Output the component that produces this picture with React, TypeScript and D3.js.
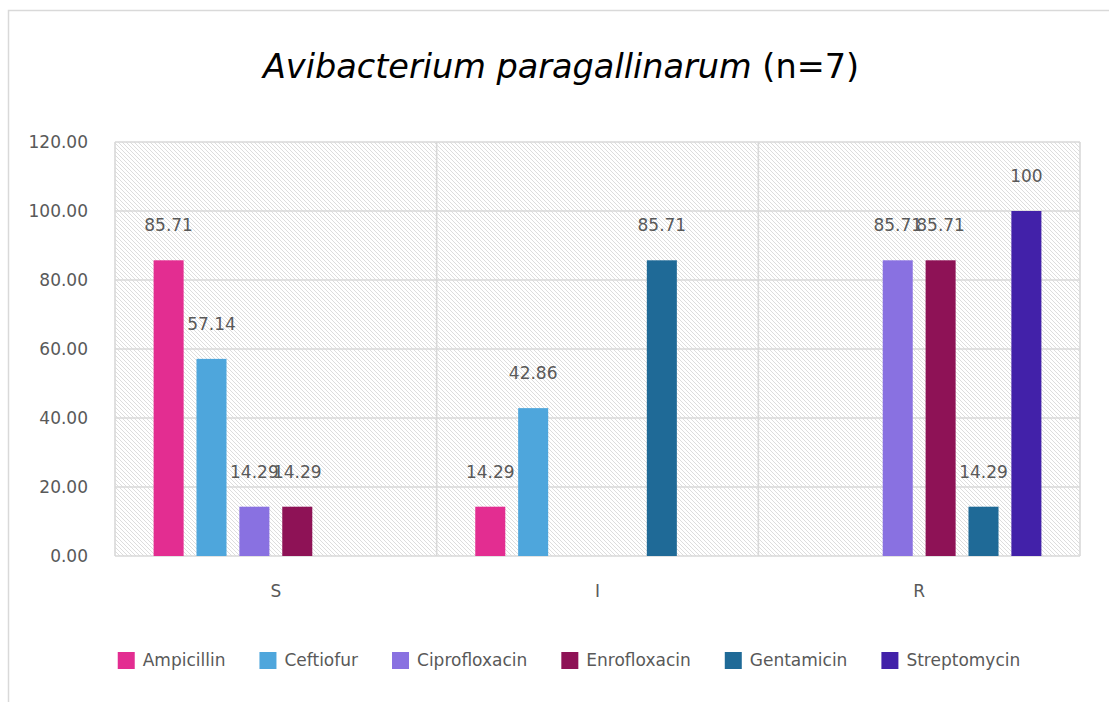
import React, { useEffect, useRef } from 'react';
import * as d3 from 'd3';

// groups on the x axis (S = susceptible, I = intermediate, R = resistant)
const categories = ['S', 'I', 'R'];
const drugs = ['Ampicillin', 'Ceftiofur', 'Ciprofloxacin', 'Enrofloxacin', 'Gentamicin', 'Streptomycin'];
const drugColors = ['#e32d91', '#4ea6dc', '#8971e1', '#8e1256', '#1f6a97', '#4221a9'];

// percent of isolates per drug, one array per group
const valuesS = [85.71, 57.14, 14.29, 14.29, 0, 0];
const valuesI = [14.29, 42.86, 0, 0, 85.71, 0];
const valuesR = [0, 0, 85.71, 85.71, 14.29, 100];

const yTicks = [0, 20, 40, 60, 80, 100, 120];

const FONT = '"DejaVu Sans", "Open Sans", sans-serif';
const GREY = '#595959';

const App = () => {
    const svgRef = useRef<SVGSVGElement | null>(null);

    useEffect(() => {
        const width = 1109;
        const height = 702;
        const left = 115;
        const right = 1080;
        const top = 142;
        const bottom = 556;

        const svg = d3.select(svgRef.current);
        svg.selectAll('*').remove();
        svg.attr('width', width).attr('height', height);

        const rows = [valuesS, valuesI, valuesR];

        // diagonal hatch for the plot background
        const defs = svg.append('defs');
        const pat = defs.append('pattern')
            .attr('id', 'hatch')
            .attr('patternUnits', 'userSpaceOnUse')
            .attr('width', 4)
            .attr('height', 4);
        pat.append('rect').attr('width', 4).attr('height', 4).attr('fill', '#ffffff');
        pat.append('path')
            .attr('d', 'M0,0 L4,4 M-1,3 L1,5 M3,-1 L5,1')
            .attr('stroke', '#d4d4d4')
            .attr('stroke-width', 0.8);

        // chart frame (only top and left edges show in the picture)
        svg.append('rect').attr('width', width).attr('height', height).attr('fill', '#fff');
        svg.append('path')
            .attr('d', `M8.5,${height} L8.5,10.5 L${width},10.5`)
            .attr('fill', 'none')
            .attr('stroke', '#d9d9d9')
            .attr('stroke-width', 1.5);

        const x = d3.scaleBand().domain(categories).range([left, right]).paddingInner(0).paddingOuter(0);
        const xInner = d3.scaleBand()
            .domain(drugs)
            .range([x.bandwidth() * 0.1, x.bandwidth() * 0.9])
            .paddingInner(0.3)
            .paddingOuter(0.15);
        const y = d3.scaleLinear().domain([0, 120]).range([bottom, top]);

        svg.append('rect')
            .attr('x', left).attr('y', top)
            .attr('width', right - left).attr('height', bottom - top)
            .attr('fill', 'url(#hatch)');

        // horizontal grid
        svg.append('g')
            .selectAll('line')
            .data(yTicks)
            .join('line')
            .attr('x1', left).attr('x2', right)
            .attr('y1', d => y(d)).attr('y2', d => y(d))
            .attr('stroke', '#d9d9d9')
            .attr('stroke-width', 1.6);

        // vertical separators between groups
        const seps = categories.map(c => x(c) as number).concat([right]);
        svg.append('g')
            .selectAll('line')
            .data(seps)
            .join('line')
            .attr('x1', d => d).attr('x2', d => d)
            .attr('y1', top).attr('y2', bottom)
            .attr('stroke', '#d9d9d9')
            .attr('stroke-width', 1.6);

        // y tick labels
        svg.append('g')
            .selectAll('text')
            .data(yTicks)
            .join('text')
            .attr('x', 88)
            .attr('y', d => y(d))
            .attr('dy', '0.35em')
            .attr('text-anchor', 'end')
            .style('font-family', FONT)
            .style('font-size', '17px')
            .style('fill', GREY)
            .text(d => d.toFixed(2));

        // x category labels
        svg.append('g')
            .selectAll('text')
            .data(categories)
            .join('text')
            .attr('x', d => (x(d) as number) + x.bandwidth() / 2)
            .attr('y', 597)
            .attr('text-anchor', 'middle')
            .style('font-family', FONT)
            .style('font-size', '17px')
            .style('fill', GREY)
            .text(d => d);

        // bars and value labels
        categories.forEach((cat, ci) => {
            const g = svg.append('g').attr('transform', `translate(${x(cat)},0)`);
            const items = drugs.map((drug, di) => ({ drug, di, value: rows[ci][di] }))
                .filter(d => d.value > 0);

            g.selectAll('rect')
                .data(items)
                .join('rect')
                .attr('x', d => xInner(d.drug) as number)
                .attr('y', d => y(d.value))
                .attr('width', xInner.bandwidth())
                .attr('height', d => bottom - y(d.value))
                .attr('fill', d => drugColors[d.di]);

            g.selectAll('text')
                .data(items)
                .join('text')
                .attr('x', d => (xInner(d.drug) as number) + xInner.bandwidth() / 2)
                .attr('y', d => y(d.value) - 35)
                .attr('dy', '0.35em')
                .attr('text-anchor', 'middle')
                .style('font-family', FONT)
                .style('font-size', '17px')
                .style('fill', GREY)
                .text(d => String(d.value));
        });

        // title
        const title = svg.append('text')
            .attr('x', 561)
            .attr('y', 78)
            .attr('text-anchor', 'middle')
            .style('font-family', FONT)
            .style('font-size', '33.5px')
            .style('fill', '#000');
        title.append('tspan').style('font-style', 'italic').text('Avibacterium paragallinarum');
        title.append('tspan').text(' (n=7)');

        // legend, laid out from measured text widths
        const legend = svg.append('g');
        const entries = drugs.map((drug, i) => {
            const eg = legend.append('g');
            eg.append('rect')
                .attr('y', 652)
                .attr('width', 17)
                .attr('height', 17)
                .attr('fill', drugColors[i]);
            const t = eg.append('text')
                .attr('x', 25)
                .attr('y', 666)
                .style('font-family', FONT)
                .style('font-size', '17px')
                .style('fill', GREY)
                .text(drug);
            const w = (t.node() as SVGTextElement).getComputedTextLength();
            return { eg, w: 25 + w };
        });
        const gap = 34;
        const total = d3.sum(entries, e => e.w) + gap * (entries.length - 1);
        let cx = 569 - total / 2;
        entries.forEach(e => {
            e.eg.attr('transform', `translate(${cx},0)`);
            cx += e.w + gap;
        });
    }, []);

    return (
        <div style={{ position: 'absolute', left: 0, top: 0 }}>
            <svg ref={svgRef} style={{ display: 'block' }}></svg>
        </div>
    );
};

export default App;
